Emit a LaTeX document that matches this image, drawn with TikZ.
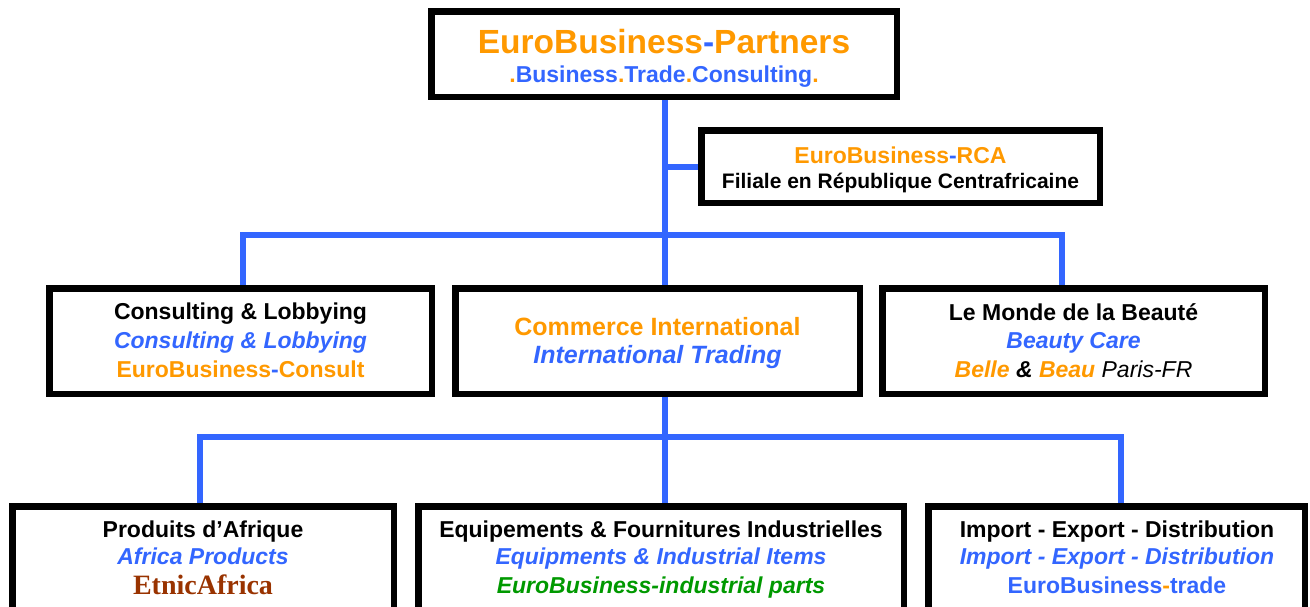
\documentclass[tikz,border=0pt]{standalone}
\usepackage{fontspec}
\setmainfont{Liberation Sans}
\newfontfamily\etnicfont{Liberation Serif}
\usetikzlibrary{backgrounds}
\definecolor{ebo}{HTML}{FF9900}
\definecolor{ebb}{HTML}{3366FF}
\definecolor{ebg}{HTML}{009900}
\definecolor{ebr}{HTML}{993300}
\tikzset{
  box/.style={draw=black, line width=6.5pt, fill=white, inner sep=0pt, rectangle},
  conn/.style={draw=ebb, line width=6pt, line join=miter},
  txt/.style={anchor=base, inner sep=0pt, font=\fontsize{23}{28}\selectfont\bfseries},
}
\begin{document}
\begin{tikzpicture}[x=1pt,y=1pt]
\useasboundingbox (0,0) rectangle (1310,-606);
\clip (0,0) rectangle (1310,-606);
% boxes
\node[box, minimum width=465.5pt, minimum height=85.5pt] (top) at (664,-54) {};
\node[box, minimum width=398.5pt, minimum height=72.5pt] (rca) at (900.5,-166.5) {};
\node[box, minimum width=382.5pt, minimum height=105.5pt] (cons) at (240.5,-341) {};
\node[box, minimum width=404.5pt, minimum height=105.5pt] (comm) at (657.5,-341) {};
\node[box, minimum width=382.5pt, minimum height=105.5pt] (beau) at (1073.5,-341) {};
\node[box, minimum width=381.5pt, minimum height=150pt] (prod) at (203,-581.25) {};
\node[box, minimum width=485.5pt, minimum height=150pt] (equi) at (661,-581.25) {};
\node[box, minimum width=376.5pt, minimum height=150pt] (impo) at (1116.5,-581.25) {};
% bus coordinates
\coordinate (trunk) at (665,0);
\coordinate (b1l) at (243,-235);
\coordinate (b1r) at (1062,-235);
\coordinate (b2l) at (200,-437);
\coordinate (b2r) at (1121,-437);
\begin{scope}[on background layer]
\draw[conn] (top.south -| trunk) -- (comm.north -| trunk);
\draw[conn] (trunk |- rca.west) -- (rca.west);
\draw[conn] (cons.north -| b1l) -- (b1l) -- (b1r) -- (beau.north -| b1r);
\draw[conn] (comm.south -| trunk) -- (equi.north -| trunk);
\draw[conn] (prod.north -| b2l) -- (b2l) -- (b2r) -- (impo.north -| b2r);
\end{scope}
% texts
\node[txt, font=\fontsize{33.5}{38}\selectfont\bfseries] (top1) at (664,-53)
  {\textcolor{ebo}{EuroBusiness}\textcolor{ebb}{-}\textcolor{ebo}{Partners}};
\node[txt] (top2) at (664,-82)
  {\textcolor{ebo}{.}\textcolor{ebb}{Business}\textcolor{ebo}{.}\textcolor{ebb}{Trade}\textcolor{ebo}{.}\textcolor{ebb}{Consulting}\textcolor{ebo}{.}};
\node[txt] (rca1) at (900.5,-163)
  {\textcolor{ebo}{EuroBusiness}\textcolor{ebb}{-}\textcolor{ebo}{RCA}};
\node[txt, font=\fontsize{21}{25}\selectfont\bfseries] (rca2) at (900.5,-188)
  {Filiale en République Centrafricaine};
\node[txt] (cons1) at (240.5,-319) {Consulting \& Lobbying};
\node[txt, text=ebb] (cons2) at (240.5,-348) {\itshape Consulting \& Lobbying};
\node[txt] (cons3) at (240.5,-377)
  {\textcolor{ebo}{EuroBusiness}\textcolor{ebb}{-}\textcolor{ebo}{Consult}};
\node[txt, font=\fontsize{25}{30}\selectfont\bfseries, text=ebo] (comm1) at (657.5,-335) {Commerce International};
\node[txt, font=\fontsize{25}{30}\selectfont\bfseries\itshape, text=ebb] (comm2) at (657.5,-363) {International Trading};
\node[txt] (beau1) at (1073.5,-320) {Le Monde de la Beauté};
\node[txt, text=ebb] (beau2) at (1073.5,-348) {\itshape Beauty Care};
\node[txt] (beau3) at (1073.5,-377)
  {\itshape\textcolor{ebo}{Belle} \& \textcolor{ebo}{Beau} {\mdseries Paris-FR}};
\node[txt] (prod1) at (203,-537) {Produits d’Afrique};
\node[txt, text=ebb] (prod2) at (203,-564) {\itshape Africa Products};
\node[txt, font=\fontsize{28}{32}\etnicfont\bfseries, text=ebr] (prod3) at (203,-594) {EtnicAfrica};
\node[txt] (equi1) at (661,-537) {Equipements \& Fournitures Industrielles};
\node[txt, text=ebb] (equi2) at (661,-564) {\itshape Equipments \& Industrial Items};
\node[txt, text=ebg] (equi3) at (661,-593) {\itshape EuroBusiness-industrial parts};
\node[txt] (impo1) at (1117,-537) {Import - Export - Distribution};
\node[txt, text=ebb] (impo2) at (1117,-564) {\itshape Import - Export - Distribution};
\node[txt] (impo3) at (1117,-593)
  {\textcolor{ebb}{EuroBusiness}\textcolor{ebo}{-}\textcolor{ebb}{trade}};
\end{tikzpicture}
\end{document}
